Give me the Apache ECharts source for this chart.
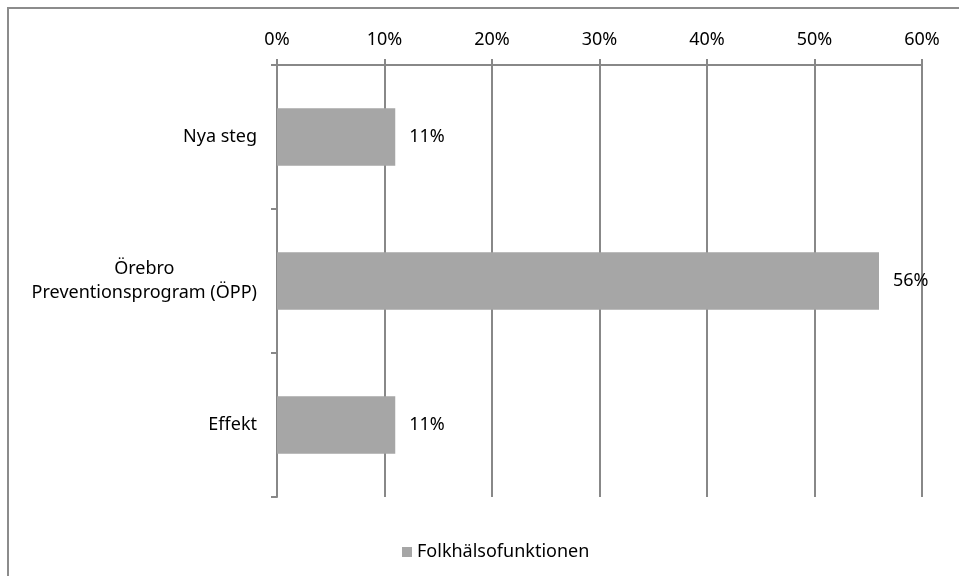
<!DOCTYPE html>
<html>
<head>
<meta charset="utf-8">
<script src="https://cdn.jsdelivr.net/npm/echarts@6/dist/echarts.min.js"></script>
<style>html,body{margin:0;padding:0;background:#fff}#c{width:959px;height:576px}</style>
</head>
<body>
<div id="c"></div>
<script>
const categories = ['Örebro', 'Preventionsprogram (ÖPP)'];
const categoryLabels = ['Nya steg', categories.join('\n'), 'Effekt'];
const seriesName = 'Folkhälsofunktionen';
const values = [11, 56, 11];
const xTicks = [0, 10, 20, 30, 40, 50, 60];

const chart = echarts.init(document.getElementById('c'));
const font = 'Noto Sans';
const fs = 18;
chart.setOption({
  animation: false,
  textStyle: { fontFamily: font },
  graphic: [{
    type: 'rect', shape: { x: 8, y: 8, width: 1200, height: 1200 },
    style: { fill: 'none', stroke: '#8c8c8c', lineWidth: 2 }, z: -1
  }],
  grid: { left: 277, right: 37, top: 65, bottom: 79 },
  xAxis: {
    type: 'value', position: 'top', min: xTicks[0], max: xTicks[xTicks.length - 1], interval: 10,
    axisLine: { show: true, lineStyle: { color: '#888', width: 2 } },
    axisTick: { show: true, length: 6, lineStyle: { color: '#888', width: 2 } },
    splitLine: { show: true, lineStyle: { color: '#888', width: 2 } },
    axisLabel: { formatter: '{value}%', color: '#000', fontSize: fs, fontFamily: font, margin: 16 }
  },
  yAxis: {
    type: 'category', data: categoryLabels, inverse: true,
    axisLine: { show: true, lineStyle: { color: '#888', width: 2 } },
    axisTick: { show: true, length: 6, lineStyle: { color: '#888', width: 2 } },
    axisLabel: {
      color: '#000', fontSize: fs, fontFamily: font, margin: 20, interval: 0,
      formatter: function (v) {
        if (v.indexOf('\n') < 0) return v;
        return '{c|' + v.replace('\n', '}\n{c|') + '}';
      },
      rich: { c: { fontSize: fs, fontFamily: font, color: '#000', lineHeight: 24, align: 'center' } },
      lineHeight: 24
    }
  },
  legend: {
    data: [seriesName], left: 397, top: 538, itemWidth: 10, itemHeight: 10, itemGap: 6,
    icon: 'rect', textStyle: { color: '#000', fontSize: fs, fontFamily: font }
  },
  series: [{
    name: seriesName, type: 'bar', data: values, barCategoryGap: '60%',
    itemStyle: { color: '#a6a6a6' },
    label: { show: true, position: 'right', distance: 14, formatter: '{c}%', color: '#000', fontSize: fs, fontFamily: font }
  }]
});
</script>
</body>
</html>
